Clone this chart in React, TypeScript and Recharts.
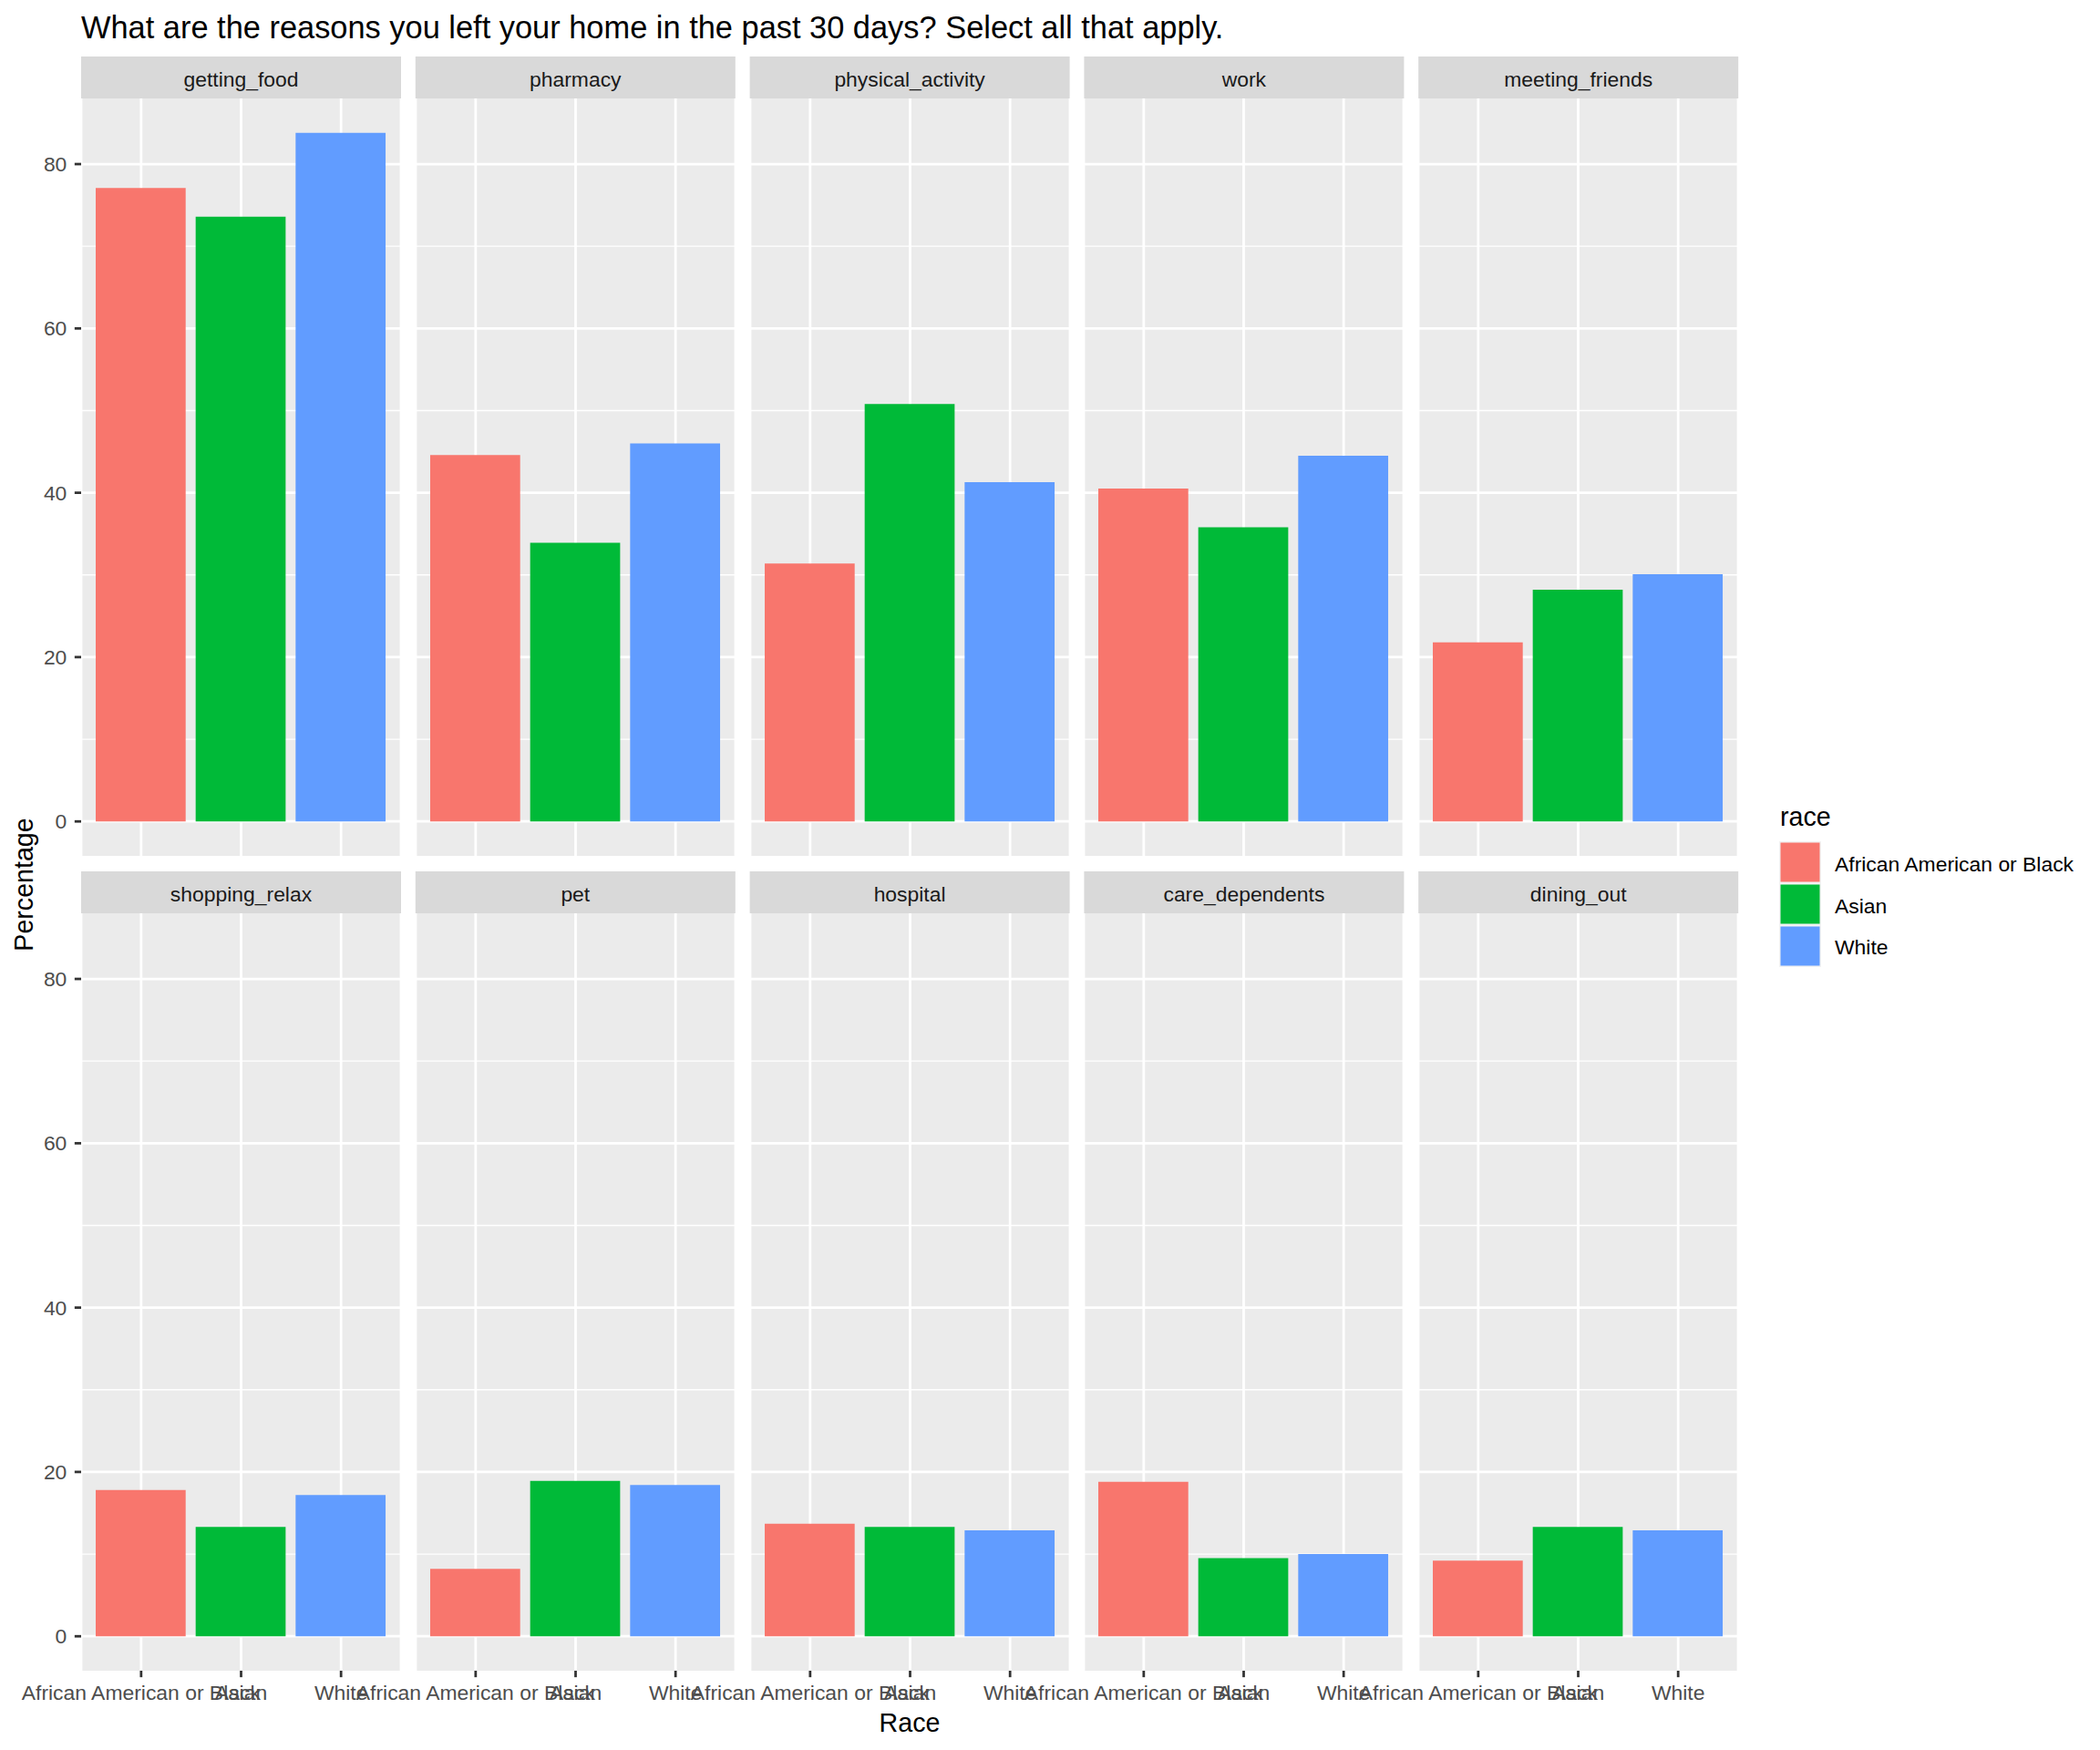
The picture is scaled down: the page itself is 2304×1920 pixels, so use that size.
import React from 'react';
import { BarChart, Bar, XAxis, YAxis, CartesianGrid, Cell } from 'recharts';

// facet panels, in reading order (5 per row)
const facets = [
  'getting_food', 'pharmacy', 'physical_activity', 'work', 'meeting_friends',
  'shopping_relax', 'pet', 'hospital', 'care_dependents', 'dining_out',
];
const races = ['African American or Black', 'Asian', 'White'];

// percentages per race, same order as facets
const africanAmerican = [77.1, 44.6, 31.4, 40.5, 21.8, 17.8, 8.2, 13.7, 18.8, 9.2];
const asian = [73.6, 33.9, 50.8, 35.8, 28.2, 13.3, 18.9, 13.3, 9.5, 13.3];
const white = [83.8, 46.0, 41.3, 44.5, 30.1, 17.2, 18.4, 12.9, 10.0, 12.9];
const seriesValues = [africanAmerican, asian, white];

const majorTicks = [0, 20, 40, 60, 80];
const minorTicks = [10, 30, 50, 70];

const raceColors = ['#F8766D', '#00BA38', '#619CFF'];

// ggplot-like continuous expansion (5% of the range)
const maxVal = Math.max(...africanAmerican, ...asian, ...white);
const yDomain = [-0.05 * maxVal, maxVal * 1.05];

// layout
const FONT = '"Liberation Sans", Arial, Helvetica, sans-serif';
const PLOT_W = 351;
const PLOT_H = 831;
const STRIP_H = 46;
const LEFT = 89;
const COL_STEP = 366.8;
const ROW_TOP = [108, 1002];
const Y_AXIS_W = 70;
const X_AXIS_H = 60;
const TICK = 7.15;
const GRID_MAJOR = 2.77;
const GRID_MINOR = 1.39;

const tickStyle = { fill: '#4D4D4D', fontSize: 22.9, fontFamily: FONT };
const tickLineStyle = { stroke: '#333333', strokeWidth: GRID_MAJOR };
// inner facets keep their axis ticks (for the grid) but draw no labels
const noTick = () => <g />;

function Panel({ index }: { index: number }) {
  const col = index % 5;
  const row = Math.floor(index / 5);
  const showY = col === 0;
  const showX = row === 1;
  const data = races.map((race, i) => ({ race, value: seriesValues[i][index] }));
  const width = PLOT_W + (showY ? Y_AXIS_W : 0);
  const height = PLOT_H + (showX ? X_AXIS_H : 0);
  const left = LEFT + col * COL_STEP - (showY ? Y_AXIS_W : 0);

  return (
    <div style={{ position: 'absolute', left, top: ROW_TOP[row], width, height }}>
      <BarChart width={width} height={height} data={data} margin={{ top: 0, right: 0, bottom: 0, left: 0 }}>
        <CartesianGrid fill="#EBEBEB" stroke="#FFFFFF" strokeWidth={GRID_MAJOR} horizontalValues={majorTicks} />
        <CartesianGrid stroke="#FFFFFF" strokeWidth={GRID_MINOR} vertical={false} horizontalValues={minorTicks} />
        <XAxis
          dataKey="race"
          type="category"
          interval={0}
          padding={{ left: 11, right: 11 }}
          height={showX ? X_AXIS_H : 0}
          axisLine={false}
          tick={showX ? tickStyle : noTick}
          tickLine={showX ? tickLineStyle : false}
          tickSize={TICK}
          tickMargin={8.5}
        />
        <YAxis
          type="number"
          domain={yDomain}
          ticks={majorTicks}
          interval={0}
          width={showY ? Y_AXIS_W : 0}
          axisLine={false}
          tick={showY ? tickStyle : noTick}
          tickLine={showY ? tickLineStyle : false}
          tickSize={TICK}
          tickMargin={8.5}
        />
        <Bar dataKey="value" barSize={98.7} isAnimationActive={false}>
          {data.map((d, i) => (
            <Cell key={d.race} fill={raceColors[i]} />
          ))}
        </Bar>
      </BarChart>
    </div>
  );
}

export default function App() {
  return (
    <div style={{ position: 'absolute', left: 0, top: 0, width: 2304, height: 1920, background: '#FFFFFF', fontFamily: FONT }}>
      <style>{'.recharts-surface { overflow: visible; } .recharts-wrapper { overflow: visible; }'}</style>
      <svg width={2304} height={1920} style={{ position: 'absolute', left: 0, top: 0 }}>
        <text x={LEFT} y={41.7} fontSize={34.4} fill="#000000" fontFamily={FONT}>
          What are the reasons you left your home in the past 30 days? Select all that apply.
        </text>
        {facets.map((f, i) => {
          const col = i % 5;
          const row = Math.floor(i / 5);
          const x = LEFT + col * COL_STEP;
          const y = ROW_TOP[row] - STRIP_H;
          return (
            <g key={f}>
              <rect x={x} y={y} width={PLOT_W} height={STRIP_H} fill="#D9D9D9" />
              <text x={x + PLOT_W / 2} y={y + STRIP_H / 2 + 9.5} textAnchor="middle" fontSize={22.9} fill="#1A1A1A" fontFamily={FONT}>
                {f}
              </text>
            </g>
          );
        })}
        <text transform="translate(35.5,970.5) rotate(-90)" textAnchor="middle" fontSize={28.6} fill="#000000" fontFamily={FONT}>
          Percentage
        </text>
        <text x={998} y={1900} textAnchor="middle" fontSize={28.6} fill="#000000" fontFamily={FONT}>
          Race
        </text>
        <text x={1953} y={906} fontSize={28.6} fill="#000000" fontFamily={FONT}>
          race
        </text>
        <rect x={1952} y={923} width={46} height={138} fill="#F2F2F2" />
        {races.map((r, i) => (
          <g key={r}>
            <rect x={1953.5} y={924.5 + i * 46} width={43} height={43} fill={raceColors[i]} />
            <text x={2013} y={956 + i * 45.7} fontSize={22.9} fill="#000000" fontFamily={FONT}>
              {r}
            </text>
          </g>
        ))}
      </svg>
      {facets.map((f, i) => (
        <Panel key={f} index={i} />
      ))}
    </div>
  );
}
